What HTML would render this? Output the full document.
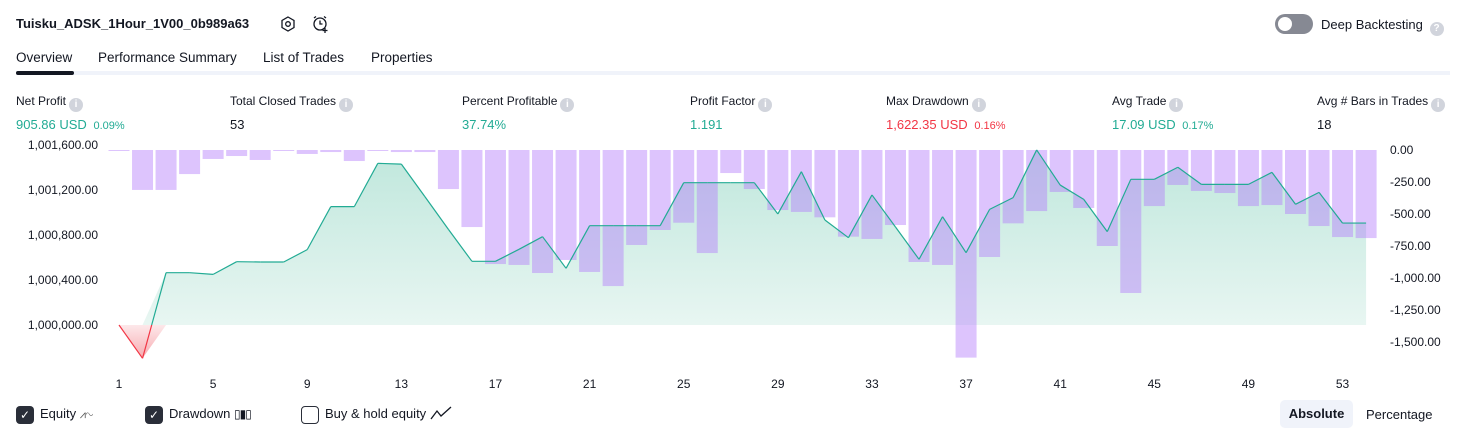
<!DOCTYPE html>
<html><head><meta charset="utf-8">
<style>
*{box-sizing:border-box;margin:0;padding:0}
body{width:1466px;height:438px;background:#fff;font-family:"Liberation Sans",sans-serif;color:#131722;position:relative;overflow:hidden;font-size:13px}
.abs{position:absolute;white-space:nowrap}
.info{display:inline-block;width:14px;height:14px;border-radius:50%;background:#d1d4dc;color:#fff;font-size:10px;text-align:center;line-height:14px;font-weight:bold;vertical-align:-2px;margin-left:3px}
.lbl{font-size:12px;color:#131722}
.val{font-size:13px}
.g{color:#22ab94}.r{color:#f23645}
.small{font-size:11px}
.tab{font-size:13.5px;color:#131722}
.cb{display:inline-block;width:18px;height:18px;border-radius:4px;vertical-align:middle;margin-right:6px}
.legend{font-size:13px;line-height:18px}
</style></head><body>
<div class="abs" style="left:16px;top:16px;font-weight:bold;font-size:13px">Tuisku_ADSK_1Hour_1V00_0b989a63</div>
<svg class="abs" style="left:279px;top:15px" width="18" height="18" viewBox="0 0 18 18"><polygon points="9,2 15,5.5 15,12.5 9,16 3,12.5 3,5.5" fill="none" stroke="#131722" stroke-width="1.3"/><circle cx="9" cy="9" r="2.3" fill="none" stroke="#131722" stroke-width="1.3"/></svg>
<svg class="abs" style="left:311px;top:14px" width="20" height="20" viewBox="0 0 20 20"><circle cx="9" cy="10" r="6" fill="none" stroke="#131722" stroke-width="1.3"/><path d="M9 6.5V10H11.5M3 4L5 2.5M15 4L13 2.5M14 14V19M11.5 16.5H16.5" fill="none" stroke="#131722" stroke-width="1.3"/></svg>
<div class="abs" style="left:1275px;top:14px;width:38px;height:20px;border-radius:10px;background:#868993"><div style="position:absolute;left:3px;top:3px;width:14px;height:14px;border-radius:50%;background:#fff"></div></div>
<div class="abs" style="left:1321px;top:17px;font-size:13px">Deep Backtesting <span class="info" style="background:#d1d4dc">?</span></div>

<div class="abs tab" style="left:16px;top:50px">Overview</div>
<div class="abs tab" style="left:98px;top:50px">Performance Summary</div>
<div class="abs tab" style="left:263px;top:50px">List of Trades</div>
<div class="abs tab" style="left:371px;top:50px">Properties</div>
<div class="abs" style="left:16px;top:71px;width:1434px;height:4px;background:#f0f3fa"></div>
<div class="abs" style="left:16px;top:71px;width:58px;height:4px;border-radius:2px;background:#131722"></div>

<div class="abs" style="left:16px;top:94px"><div class="lbl">Net Profit<span class="info">i</span></div><div class="val g" style="margin-top:5px">905.86 USD <span class="small">&nbsp;0.09%</span></div></div>
<div class="abs" style="left:230px;top:94px"><div class="lbl">Total Closed Trades<span class="info">i</span></div><div class="val" style="margin-top:5px">53</div></div>
<div class="abs" style="left:462px;top:94px"><div class="lbl">Percent Profitable<span class="info">i</span></div><div class="val g" style="margin-top:5px">37.74%</div></div>
<div class="abs" style="left:690px;top:94px"><div class="lbl">Profit Factor<span class="info">i</span></div><div class="val g" style="margin-top:5px">1.191</div></div>
<div class="abs" style="left:886px;top:94px"><div class="lbl">Max Drawdown<span class="info">i</span></div><div class="val r" style="margin-top:5px">1,622.35 USD <span class="small">&nbsp;0.16%</span></div></div>
<div class="abs" style="left:1112px;top:94px"><div class="lbl">Avg Trade<span class="info">i</span></div><div class="val g" style="margin-top:5px">17.09 USD <span class="small">&nbsp;0.17%</span></div></div>
<div class="abs" style="left:1317px;top:94px"><div class="lbl">Avg # Bars in Trades<span class="info">i</span></div><div class="val" style="margin-top:5px">18</div></div>

<svg class="abs" id="chart" style="left:0;top:0" width="1466" height="400">
<defs>
<linearGradient id="gg" x1="0" y1="150" x2="0" y2="325" gradientUnits="userSpaceOnUse"><stop offset="0" stop-color="#bfe7dc"/><stop offset="1" stop-color="#e8f6f2"/></linearGradient>
<linearGradient id="rg" x1="0" y1="325" x2="0" y2="360" gradientUnits="userSpaceOnUse"><stop offset="0" stop-color="#fde8ea"/><stop offset="1" stop-color="#f7a8ae"/></linearGradient>
</defs>
</svg>

<div class="abs legend" style="left:16px;top:405px"><span class="cb" style="background:#2a2e39;color:#fff;text-align:center;line-height:18px;font-size:12px">✓</span>Equity <span style="font-size:11px;color:#555">⩘∿</span></div>
<div class="abs legend" style="left:145px;top:405px"><span class="cb" style="background:#2a2e39;color:#fff;text-align:center;line-height:18px;font-size:12px">✓</span>Drawdown <span style="font-size:12px;letter-spacing:-1px">▯▮▯</span></div>
<div class="abs legend" style="left:301px;top:405px"><span class="cb" style="border:1.5px solid #2a2e39"></span>Buy &amp; hold equity <svg width="22" height="14" style="vertical-align:-2px"><path d="M1 13L7 5L11 10L21 1" fill="none" stroke="#131722" stroke-width="1.3"/></svg></div>
<div class="abs" style="left:1280px;top:400px;width:73px;height:28px;border-radius:5px;background:#f0f3fa;font-weight:bold;text-align:center;line-height:28px;font-size:13px">Absolute</div>
<div class="abs" style="left:1366px;top:407px;font-size:13px">Percentage</div>

<script>
const tradeNums=[1,2,3,4,5,6,7,8,9,10,11,12,13,14,15,16,17,18,19,20,21,22,23,24,25,26,27,28,29,30,31,32,33,34,35,36,37,38,39,40,41,42,43,44,45,46,47,48,49,50,51,52,53,54];
const equity=[0,-296,465,465,450,563,560,560,670,1052,1052,1437,1430,1141,850,566,566,673,785,504,883,883,883,883,1265,1265,1265,1265,987,1363,933,776,1156,871,584,963,643,1028,1132,1556,1244,1117,830,1295,1295,1402,1250,1250,1250,1357,1073,1179,906,906];
const drawdown=[5,312,312,188,70,47,78,5,31,16,86,5,16,16,305,602,891,898,961,859,953,1063,742,625,568,805,180,305,469,484,526,677,695,586,875,898,1622,836,573,477,328,453,750,1117,438,273,320,336,438,430,500,594,680,688];
const xTicks=[1,5,9,13,17,21,25,29,33,37,41,45,49,53];
const leftTicks=[1000000,1000400,1000800,1001200,1001600];
const rightTicks=[0,-250,-500,-750,-1000,-1250,-1500];
const BASE=1000000;
const NS='http://www.w3.org/2000/svg';
const svg=document.getElementById('chart');
const xS=n=>119+(n-1)*23.53;
const yL=v=>325-v*0.1125;
const yR=d=>150+d*0.128;
function mk(tag,attrs){const e=document.createElementNS(NS,tag);for(const k in attrs)e.setAttribute(k,attrs[k]);svg.appendChild(e);return e;}
let pos='M'+xS(1)+' '+yL(0), neg='M'+xS(1)+' '+yL(0);
for(let i=0;i<equity.length;i++){const x=xS(tradeNums[i]);pos+=' L'+x+' '+Math.min(yL(equity[i]),yL(0));neg+=' L'+x+' '+Math.max(yL(equity[i]),yL(0));}
pos+=' L'+xS(tradeNums[tradeNums.length-1])+' '+yL(0)+' Z';neg+=' L'+xS(tradeNums[tradeNums.length-1])+' '+yL(0)+' Z';
const ap=mk('path',{d:pos,fill:'url(#gg)'});


const an=mk('path',{d:neg,fill:'url(#rg)'});


for(let i=0;i<drawdown.length;i++){const x=xS(tradeNums[i]);
const b=mk('rect',{x:x-10.5,y:150,width:21,height:Math.max(1,yR(drawdown[i])-150),fill:'rgba(180,125,250,0.45)'});

}
for(let i=0;i<equity.length-1;i++){
const x1=xS(tradeNums[i]),x2=xS(tradeNums[i+1]),v1=equity[i],v2=equity[i+1];
const col=(v1<0||v2<0)?'#f23645':'#22ab94';
if(v1<0!==v2<0&&v1!==0&&v2!==0){const t=v1/(v1-v2),xm=x1+(x2-x1)*t;
const s1=mk('line',{x1:x1,y1:yL(v1),x2:xm,y2:yL(0),stroke:v1<0?'#f23645':'#22ab94','stroke-width':1.2});


const s2=mk('line',{x1:xm,y1:yL(0),x2:x2,y2:yL(v2),stroke:v2<0?'#f23645':'#22ab94','stroke-width':1.2});

}
else{const s=mk('line',{x1:x1,y1:yL(v1),x2:x2,y2:yL(v2),stroke:col,'stroke-width':1.2});

}}
const fmt=n=>n.toLocaleString('en-US',{minimumFractionDigits:2,maximumFractionDigits:2});
for(const v of leftTicks){const t=mk('text',{x:98,y:yL(v-BASE)+4,'text-anchor':'end','font-size':12,fill:'#131722','font-family':'Liberation Sans, sans-serif'});t.textContent=fmt(v);

}
for(const d of rightTicks){const t=mk('text',{x:1390,y:yR(-d)+4,'font-size':12,fill:'#131722','font-family':'Liberation Sans, sans-serif'});t.textContent=fmt(d);

}
for(const n of xTicks){const t=mk('text',{x:xS(n),y:388,'text-anchor':'middle','font-size':12,fill:'#131722','font-family':'Liberation Sans, sans-serif'});t.textContent=n;

}
</script>
</body></html>
